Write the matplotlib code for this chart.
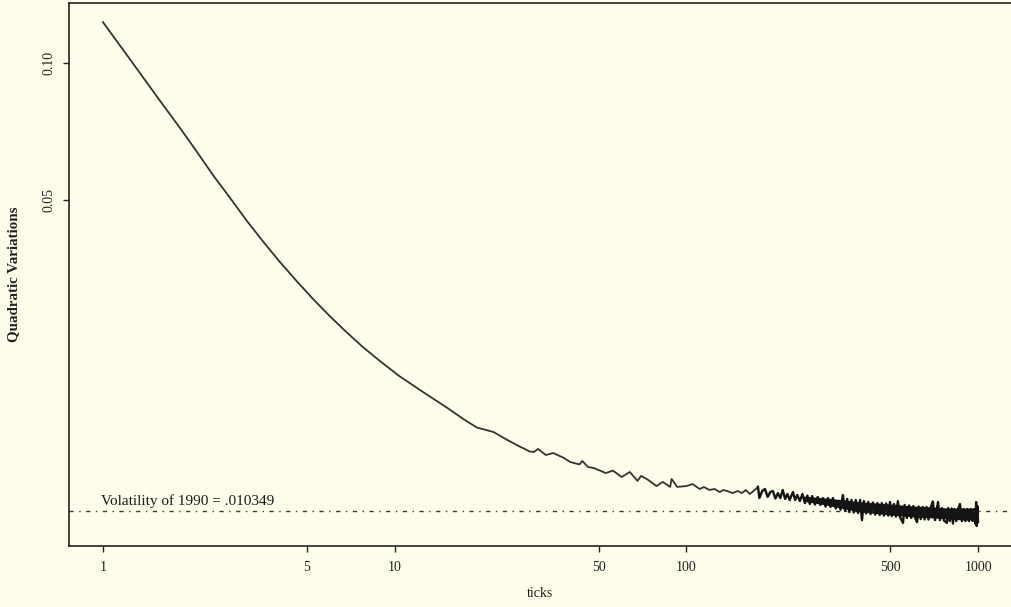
import numpy as np
import matplotlib.pyplot as plt
from matplotlib.ticker import NullLocator

plt.rcParams['font.family'] = ['Liberation Serif', 'DejaVu Serif']

# quadratic variation by sampling interval (ticks), read in three stretches
ticks_short = [1, 1.24, 1.57, 1.84, 2.10, 2.39, 2.73, 3.11, 3.54, 4.04, 4.61, 5.26,
               6.00, 6.85, 7.80, 8.90, 10.4, 11.6, 13.2, 15.1, 17.2, 19.1, 21.8,
               24.2, 26.9, 28, 29]
qv_short = [0.1229, 0.1017, 0.08251, 0.07185, 0.06376, 0.05656, 0.05048, 0.04503,
            0.04051, 0.03654, 0.03319, 0.03026, 0.02776, 0.02559, 0.02373, 0.02214,
            0.02049, 0.01955, 0.01850, 0.01749, 0.01651, 0.01582, 0.01546, 0.01488,
            0.01435, 0.01418, 0.01401]

ticks_mid = [30, 31, 33, 35, 38, 40, 43, 44, 46, 48, 51, 53, 56, 60, 64, 68, 70, 74,
             79, 83, 88, 89, 93,
             100, 105, 111, 115, 120, 125, 130, 134, 138, 144, 150, 155, 160, 165,
             170, 176]
qv_mid = [0.01397, 0.01419, 0.01376, 0.01390, 0.01356, 0.01328, 0.01312, 0.01335,
          0.01295, 0.01289, 0.01269, 0.01256, 0.01272, 0.01231, 0.01263, 0.01207,
          0.01238, 0.01213, 0.01176, 0.01201, 0.01171, 0.01219, 0.01171,
          0.01176, 0.01188, 0.01159, 0.01170, 0.01153, 0.01159, 0.01141, 0.01153,
          0.01147, 0.01135, 0.01147, 0.01135, 0.01153, 0.01130, 0.01147, 0.01171]

ticks_long = [178, 182, 186, 190, 194, 198, 202, 206, 210, 214,
              218, 222, 226, 232, 236, 240, 245, 250, 255, 260,
              265, 270, 276, 282, 288, 294, 300, 306, 312, 318,
              325, 331, 338, 344, 350, 356, 362, 368, 375, 381,
              388, 394, 400, 406, 413, 420, 428, 436, 444, 452,
              460, 468, 476, 484, 492, 499, 506, 515, 523, 531,
              540, 553, 560, 570, 580, 590, 600, 610, 618, 626,
              636, 646, 656, 666, 676, 688, 700, 712, 729, 740,
              752, 764, 782, 790, 800, 812, 820, 830, 842, 854,
              867, 880, 892, 905, 918, 931, 944, 958, 970, 980,
              985, 990, 995, 1000]
qv_long = [0.01107, 0.01147, 0.01159, 0.01113, 0.01141, 0.01147, 0.01104, 0.01135, 0.01107, 0.01153,
           0.01102, 0.01130, 0.01096, 0.01141, 0.01096, 0.01124, 0.01090, 0.01130, 0.01079, 0.01121,
           0.01074, 0.01118, 0.01071, 0.01113, 0.01069, 0.01107, 0.01060, 0.01107, 0.01058, 0.01107,
           0.01050, 0.01090, 0.01044, 0.01124, 0.01037, 0.01102, 0.01031, 0.01096, 0.01029, 0.01096,
           0.01026, 0.01096, 0.00990, 0.01090, 0.01024, 0.01085, 0.01021, 0.01082, 0.01018, 0.01079,
           0.01016, 0.01079, 0.01013, 0.01077, 0.01013, 0.01085, 0.01011, 0.01074, 0.01008, 0.01090,
           0.01006, 0.00976, 0.01069, 0.01001, 0.01066, 0.01001, 0.01063, 0.00998, 0.00980, 0.01060,
           0.00995, 0.01058, 0.00993, 0.01058, 0.00993, 0.01055, 0.01088, 0.00990, 0.01085, 0.00990,
           0.01052, 0.00988, 0.00976, 0.01052, 0.00985, 0.01050, 0.00973, 0.01047, 0.00985, 0.01047,
           0.01074, 0.00985, 0.01047, 0.00985, 0.01047, 0.00985, 0.01047, 0.00985, 0.01047, 0.00971,
           0.01085, 0.00961, 0.01063, 0.00980]

# core of the noisy tail, where consecutive ticks overlap into a solid band
band_ticks = [250, 300, 350, 400, 500, 600, 700, 800, 900, 1000]
band_hi = [0.01118, 0.01107, 0.01096, 0.01085, 0.01074, 0.01063, 0.01058, 0.01052, 0.01052, 0.01052]
band_lo = [0.01090, 0.01069, 0.01047, 0.01031, 0.01016, 0.01006, 0.01001, 0.00995, 0.00990, 0.00990]

vol_1990 = 0.010349
vol_text = "Volatility of 1990 = .010349"

xtick_vals = [1, 5, 10, 50, 100, 500, 1000]
xtick_labels = ["1", "5", "10", "50", "100", "500", "1000"]
ytick_vals = [0.05, 0.10]
ytick_labels = ["0.05", "0.10"]

assert len(ticks_short) == len(qv_short)
assert len(ticks_mid) == len(qv_mid)
assert len(ticks_long) == len(qv_long)

bg = '#fffeec'
ink = '#141414'
fig = plt.figure(figsize=(10.11, 6.07), dpi=100, facecolor=bg)
ax = fig.add_axes([0.0682, 0.1005, 0.9318, 0.8946])
ax.set_facecolor(bg)

ax.plot(ticks_short + ticks_mid, qv_short + qv_mid, color='#333333', lw=1.3)
ax.fill_between(band_ticks, band_lo, band_hi, color=ink, lw=0)
ax.plot([ticks_mid[-1]] + ticks_long, [qv_mid[-1]] + qv_long, color=ink, lw=1.7)

ax.axhline(vol_1990, color='#3a3a3a', lw=1.0, ls=(0, (3, 4, 1, 4)), zorder=1)
ax.text(0.985, vol_1990 * 1.03, vol_text, fontsize=11, ha='left', va='baseline',
        color='#1a1a1a')

ax.set_xscale('log')
ax.set_yscale('log')
ax.set_xlim(0.7647, 1297)
ax.set_ylim(0.008685, 0.1354)

ax.xaxis.set_minor_locator(NullLocator())
ax.yaxis.set_minor_locator(NullLocator())
ax.set_xticks(xtick_vals)
ax.set_xticklabels(xtick_labels)
ax.set_yticks(ytick_vals)
ax.set_yticklabels(ytick_labels, rotation=90, va='center')

ax.tick_params(axis='x', direction='out', length=4, width=1, colors='#222222',
               labelsize=10, pad=7)
ax.tick_params(axis='y', direction='out', length=4, width=1, colors='#222222',
               labelsize=10, pad=6)

for side in ['left', 'bottom', 'top']:
    ax.spines[side].set_color('#222222')
    ax.spines[side].set_linewidth(1.2)
ax.spines['right'].set_visible(False)

ax.set_xlabel("ticks", fontsize=10, color='#222222')
ax.xaxis.set_label_coords(0.5, -0.0755)
ax.set_ylabel("Quadratic Variations", fontsize=10.8, fontweight='bold', color='#222222')
ax.yaxis.set_label_coords(-0.052, 0.5)

plt.savefig("out.png", dpi=100, facecolor=bg)
